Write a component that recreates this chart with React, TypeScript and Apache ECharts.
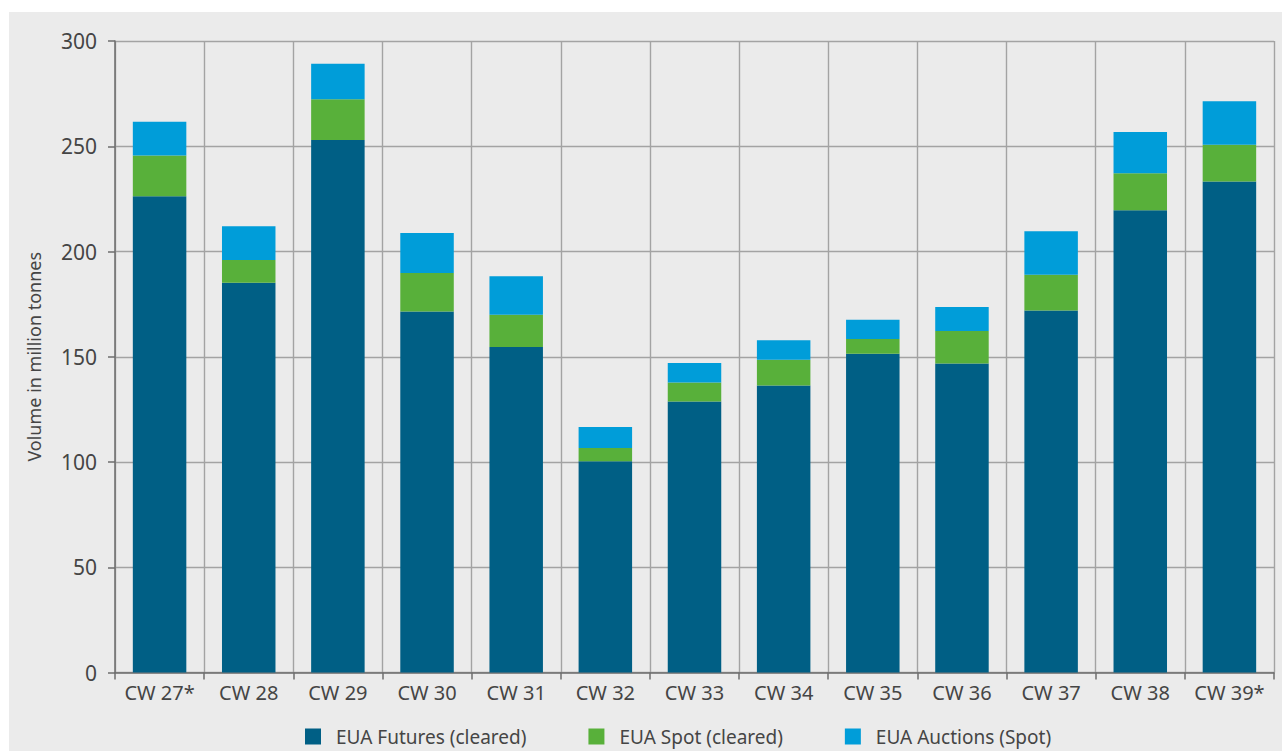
import React, { useEffect, useRef } from "react";
import * as echarts from "echarts";

const categories = ["CW 27*", "CW 28", "CW 29", "CW 30", "CW 31", "CW 32", "CW 33", "CW 34", "CW 35", "CW 36", "CW 37", "CW 38", "CW 39*"];
const futures = [226.2, 185.2, 253.0, 171.5, 154.6, 100.4, 128.8, 136.4, 151.4, 146.8, 172.0, 219.6, 233.2];
const spot = [19.4, 10.8, 19.3, 18.3, 15.4, 6.2, 9.0, 12.2, 7.0, 15.4, 17.0, 17.6, 17.5];
const auctions = [16.0, 16.0, 16.9, 19.0, 18.2, 10.0, 9.2, 9.2, 9.2, 11.4, 20.6, 19.6, 20.7];
const seriesNames = ["EUA Futures (cleared)", "EUA Spot (cleared)", "EUA Auctions (Spot)"];
const yTicks = { min: 0, max: 300, interval: 50 };

const FONT = "'Noto Sans', sans-serif";
const TEXT = "#454545";

export default function App() {
  const ref = useRef<HTMLDivElement>(null);
  useEffect(() => {
    if (!ref.current) return;
    const chart = echarts.init(ref.current, null, { renderer: "svg" });
    const colors = ["#005f85", "#58b03a", "#009dd9"];
    const data = [futures, spot, auctions];
    chart.setOption({
      animation: false,
      textStyle: { fontFamily: FONT },
      grid: { left: 115, top: 41, right: 8, bottom: 78.5, containLabel: false },
      legend: {
        left: 300,
        top: 722,
        itemWidth: 16,
        itemHeight: 16,
        itemGap: 62,
        icon: "rect",
        textStyle: { fontFamily: FONT, fontSize: 19, color: TEXT, padding: [0, 0, 0, 10] },
        data: seriesNames,
      },
      xAxis: {
        type: "category",
        data: categories,
        boundaryGap: true,
        axisLine: { show: true, lineStyle: { color: "#6e6e6e", width: 1.5 } },
        axisTick: { show: true, interval: 0, length: 7, lineStyle: { color: "#6e6e6e", width: 1.5 } },
        axisLabel: { interval: 0, fontFamily: FONT, fontSize: 20, color: TEXT, margin: 10 },
        splitLine: { show: true, interval: 0, lineStyle: { color: "#a3a3a3", width: 1.4 } },
      },
      yAxis: {
        type: "value",
        min: yTicks.min,
        max: yTicks.max,
        interval: yTicks.interval,
        name: "Volume in million tonnes",
        nameLocation: "middle",
        nameGap: 72,
        nameTextStyle: { fontFamily: FONT, fontSize: 18, color: TEXT },
        axisLine: { show: true, lineStyle: { color: "#6e6e6e", width: 1.5 } },
        axisTick: { show: true, length: 7, lineStyle: { color: "#6e6e6e", width: 1.5 } },
        axisLabel: { fontFamily: FONT, fontSize: 21, color: TEXT, margin: 18 },
        splitLine: { show: true, lineStyle: { color: "#a3a3a3", width: 1.4 } },
      },
      series: seriesNames.map((name, i) => ({
        name,
        type: "bar",
        stack: "total",
        barWidth: "60%",
        data: data[i],
        itemStyle: { color: colors[i] },
      })),
    });
    return () => chart.dispose();
  }, []);
  return (
    <div style={{ position: "fixed", left: 0, top: 0, width: 1282, height: 751, background: "#ffffff" }}>
      <div style={{ position: "absolute", left: 9, top: 12, right: 0, bottom: 0, background: "#ebebeb" }} />
      <div ref={ref} style={{ position: "absolute", left: 0, top: 0, width: 1282, height: 751 }} />
    </div>
  );
}
